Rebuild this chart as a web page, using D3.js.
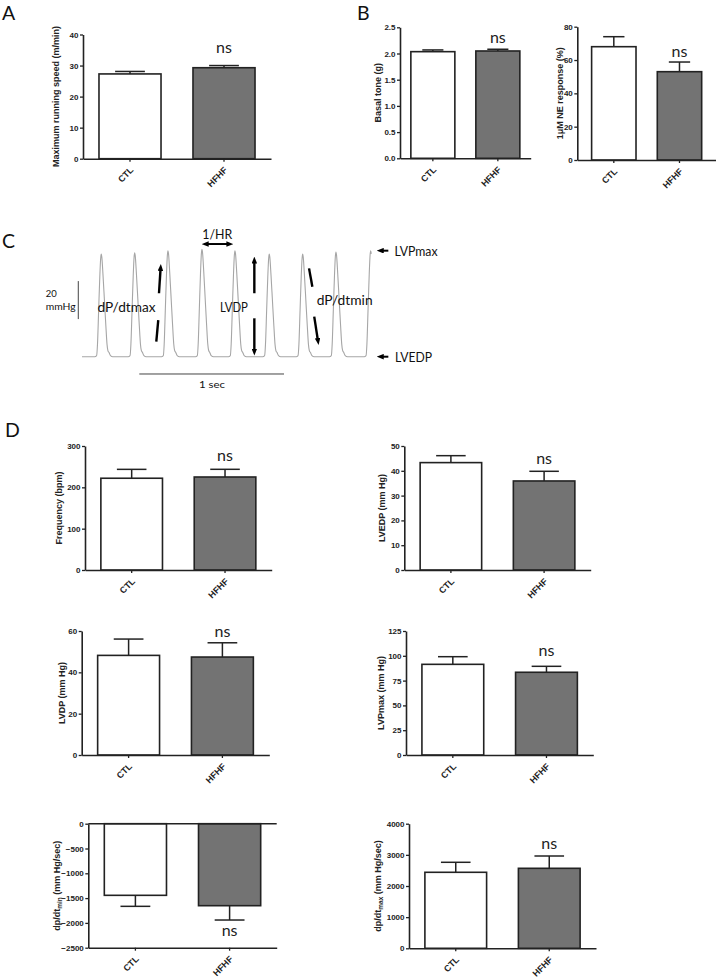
<!DOCTYPE html>
<html><head><meta charset="utf-8">
<script src="https://cdn.jsdelivr.net/npm/d3@7"></script>
<style>body{margin:0;background:#fff} svg{display:block}</style>
</head><body>
<svg id="fig" width="716" height="978"></svg>
<script>
// ---------------- DATA ----------------
const categories = ["CTL", "HFHF"];

// Panel A
const runSpeedMean = [27.3, 29.3];
const runSpeedSem = [0.8, 0.7];
const runSpeedTicks = [0, 10, 20, 30, 40];

// Panel B
const basalToneMean = [2.035, 2.048];
const basalToneSem = [0.033, 0.033];
const basalToneTicks = [0, 0.5, 1.0, 1.5, 2.0, 2.5];
const neResponseMean = [68.0, 53.0];
const neResponseSem = [6.0, 5.8];
const neResponseTicks = [0, 20, 40, 60, 80];

// Panel D
const freqMean = [222, 225];
const freqSem = [21.5, 18.6];
const freqTicks = [0, 100, 200, 300];
const lvedpMean = [43.3, 35.9];
const lvedpSem = [2.8, 3.9];
const lvedpTicks = [0, 10, 20, 30, 40, 50];
const lvdpMean = [48.2, 47.4];
const lvdpSem = [7.9, 6.9];
const lvdpTicks = [0, 20, 40, 60];
const lvpmaxMean = [91.4, 83.4];
const lvpmaxSem = [7.7, 6.0];
const lvpmaxTicks = [0, 25, 50, 75, 100, 125];
const dpdtMinMean = [-1444, -1653];
const dpdtMinSem = [222, 289];
const dpdtMinTicks = [-2500, -2000, -1500, -1000, -500, 0];
const dpdtMaxMean = [2440, 2568];
const dpdtMaxSem = [321, 395];
const dpdtMaxTicks = [0, 1000, 2000, 3000, 4000];

// Panel C: pressure trace (time in s, pressure in mmHg above LVEDP)
const beatTimes = [0.133, 0.364, 0.594, 0.829, 1.057, 1.294, 1.525, 1.755, 1.995];
const beatPeaks = [54.0, 54.7, 55.8, 56.5, 55.8, 54.0, 54.0, 55.1, 55.8];
const beatShapeDt = [-0.045, -0.032, -0.026, -0.018, -0.010, -0.004, 0, 0.004, 0.012, 0.022, 0.032, 0.040, 0.046, 0.054, 0.064, 0.080];
const beatShapeFrac = [0, 0.01, 0.12, 0.45, 0.78, 0.96, 1, 0.97, 0.80, 0.55, 0.30, 0.12, 0.06, 0.04, 0.01, 0];
const traceEnd = 2.0;

// ---------------- DRAW ----------------
const svg = d3.select("#fig");
const sansBold = "'Liberation Sans', Arial, Helvetica, sans-serif";
const calib = "Lato, 'Open Sans', sans-serif";
const ink = "#222";

function barPanel(cfg) {
  const g = svg.append("g");
  const x = d3.scaleBand().domain(categories).range([cfg.x0, cfg.x1])
    .paddingInner(cfg.pi).paddingOuter(cfg.po);
  const ext = d3.extent(cfg.ticks);
  const y = d3.scaleLinear().domain(ext).range([cfg.yBot, cfg.yTop]);
  const rows = categories.map((c, i) => ({c, m: cfg.mean[i], s: cfg.sem[i], fill: i === 0 ? "#ffffff" : "#737373"}));

  const capW = x.bandwidth() * 0.48;
  rows.forEach(d => {
    const sgn = d.m >= 0 ? 1 : -1;
    const cx = x(d.c) + x.bandwidth() / 2;
    const ye = y(d.m + sgn * d.s);
    g.append("line").attr("x1", cx).attr("x2", cx).attr("y1", y(d.m)).attr("y2", ye)
      .attr("stroke", ink).attr("stroke-width", 1.5);
    g.append("line").attr("x1", cx - capW / 2).attr("x2", cx + capW / 2).attr("y1", ye).attr("y2", ye)
      .attr("stroke", ink).attr("stroke-width", 1.5);
  });

  g.selectAll("rect.bar").data(rows).join("rect").attr("class", "bar")
    .attr("x", d => x(d.c)).attr("width", x.bandwidth())
    .attr("y", d => Math.min(y(0), y(d.m)))
    .attr("height", d => Math.abs(y(0) - y(d.m)))
    .attr("fill", d => d.fill).attr("stroke", ink).attr("stroke-width", 1.6);

  const ya = g.append("g").attr("transform", `translate(${cfg.x0},0)`)
    .call(d3.axisLeft(y).tickValues(cfg.ticks).tickFormat(cfg.fmt).tickSize(3).tickSizeOuter(0).tickPadding(1.5));
  ya.select(".domain").attr("stroke", ink).attr("stroke-width", 1.6);
  ya.selectAll(".tick line").attr("stroke", ink).attr("stroke-width", 1.3);
  ya.selectAll(".tick text").attr("fill", ink).attr("font-size", 8).attr("font-weight", "bold").attr("font-family", sansBold);

  const xa = g.append("g").attr("transform", `translate(0,${cfg.yBot})`)
    .call(d3.axisBottom(x).tickSize(3).tickSizeOuter(0));
  xa.select(".domain").attr("stroke", ink).attr("stroke-width", 1.6);
  xa.selectAll(".tick line").attr("stroke", ink).attr("stroke-width", 1.3);
  xa.selectAll(".tick text").attr("fill", ink).attr("font-size", 9).attr("font-weight", "bold")
    .attr("font-family", sansBold).attr("y", 0).attr("dy", 0).attr("text-anchor", "end")
    .attr("transform", "translate(4,12) rotate(-45)");

  if (ext[0] < 0) {
    g.append("line").attr("x1", cfg.x0).attr("x2", cfg.x1).attr("y1", y(0)).attr("y2", y(0))
      .attr("stroke", ink).attr("stroke-width", 1.6);
  }

  const yMid = (cfg.yTop + cfg.yBot) / 2;
  const lab = g.append("text").attr("transform", `translate(${cfg.labelX},${yMid}) rotate(-90)`)
    .attr("text-anchor", "middle").attr("font-size", 9).attr("font-weight", "bold")
    .attr("font-family", sansBold).attr("fill", ink);
  cfg.label.forEach(seg => {
    const ts = lab.append("tspan").text(seg.t);
    if (seg.sub) ts.attr("font-size", 6.5).attr("dy", 2);
    if (seg.after) ts.attr("dy", -2);
  });

  g.append("text").attr("x", x("HFHF") + x.bandwidth() / 2).attr("y", cfg.nsY)
    .attr("text-anchor", "middle").attr("font-family", calib).attr("font-size", 16).attr("fill", ink).text("ns");
}

const f0 = d3.format("d"), f1 = d3.format(".1f");
const panels = [
  {mean: runSpeedMean, sem: runSpeedSem, ticks: runSpeedTicks, fmt: f0, x0: 83, x1: 271, yTop: 34.5, yBot: 158.7, pi: 0.34, po: 0.17, labelX: 59, nsY: 53.3,
    label: [{t: "Maximum running speed (m/min)"}]},
  {mean: basalToneMean, sem: basalToneSem, ticks: basalToneTicks, fmt: f1, x0: 400, x1: 530.7, yTop: 27.3, yBot: 158.3, pi: 0.323, po: 0.167, labelX: 381, nsY: 42.7,
    label: [{t: "Basal tone (g)"}]},
  {mean: neResponseMean, sem: neResponseSem, ticks: neResponseTicks, fmt: f0, x0: 577.3, x1: 716, yTop: 26.7, yBot: 160, pi: 0.324, po: 0.218, labelX: 563, nsY: 56.7,
    label: [{t: "1μM NE response (%)"}]},
  {mean: freqMean, sem: freqSem, ticks: freqTicks, fmt: f0, x0: 85, x1: 271.7, yTop: 446, yBot: 570, pi: 0.34, po: 0.17, labelX: 61.5, nsY: 460.7,
    label: [{t: "Frequency (bpm)"}]},
  {mean: lvedpMean, sem: lvedpSem, ticks: lvedpTicks, fmt: f0, x0: 404.3, x1: 590.7, yTop: 446, yBot: 570, pi: 0.34, po: 0.17, labelX: 385, nsY: 464,
    label: [{t: "LVEDP (mm Hg)"}]},
  {mean: lvdpMean, sem: lvdpSem, ticks: lvdpTicks, fmt: f0, x0: 81.7, x1: 269.3, yTop: 631, yBot: 755, pi: 0.34, po: 0.17, labelX: 64.5, nsY: 636.7,
    label: [{t: "LVDP (mm Hg)"}]},
  {mean: lvpmaxMean, sem: lvpmaxSem, ticks: lvpmaxTicks, fmt: f0, x0: 406, x1: 593.3, yTop: 631, yBot: 755, pi: 0.34, po: 0.17, labelX: 383.5, nsY: 656,
    label: [{t: "LVPmax (mm Hg)"}]},
  {mean: dpdtMinMean, sem: dpdtMinSem, ticks: dpdtMinTicks, fmt: f0, x0: 88.3, x1: 276.7, yTop: 823.7, yBot: 947.7, pi: 0.34, po: 0.17, labelX: 60, nsY: 935.7,
    label: [{t: "dp/dt"}, {t: "min", sub: true}, {t: " (mm Hg/sec)", after: true}]},
  {mean: dpdtMaxMean, sem: dpdtMaxSem, ticks: dpdtMaxTicks, fmt: f0, x0: 409, x1: 596, yTop: 823.7, yBot: 948.3, pi: 0.34, po: 0.17, labelX: 381, nsY: 849.3,
    label: [{t: "dp/dt"}, {t: "max", sub: true}, {t: " (mm Hg/sec)", after: true}]}
];
panels.forEach(barPanel);

// Panel letters
[["A", 2, 19.5], ["B", 357, 19.5], ["C", 2, 248.3], ["D", 5, 436.7]].forEach(([t, x, y]) => {
  svg.append("text").attr("x", x).attr("y", y).attr("font-family", calib).attr("font-size", 19.5).attr("fill", "#111").text(t);
});

// ---------------- Panel C ----------------
const xT = d3.scaleLinear().domain([0, 1]).range([82, 226.7]);
const yP = d3.scaleLinear().domain([0, 20]).range([356.7, 318.7]);
const gc = svg.append("g");

const tracePts = [[0, 0]];
beatTimes.forEach((bt, i) => {
  beatShapeDt.forEach((dt, j) => {
    const t = bt + dt;
    if (t <= traceEnd) tracePts.push([t, beatPeaks[i] * beatShapeFrac[j]]);
  });
});
gc.append("path").datum(tracePts)
  .attr("d", d3.line().x(d => xT(d[0])).y(d => yP(d[1])).curve(d3.curveMonotoneX))
  .attr("fill", "none").attr("stroke", "#a6a6a6").attr("stroke-width", 1.1);

gc.append("line").attr("x1", xT(-0.0256)).attr("x2", xT(-0.0256)).attr("y1", yP(19.8)).attr("y2", yP(39.8))
  .attr("stroke", "#444").attr("stroke-width", 1);
gc.append("line").attr("x1", xT(0.396)).attr("x2", xT(1.396)).attr("y1", yP(-9.1)).attr("y2", yP(-9.1))
  .attr("stroke", "#444").attr("stroke-width", 1);

const defs = svg.append("defs");
defs.append("marker").attr("id", "ah").attr("viewBox", "0 0 10 8").attr("refX", 2).attr("refY", 4)
  .attr("markerWidth", 7).attr("markerHeight", 5.6).attr("markerUnits", "userSpaceOnUse")
  .attr("orient", "auto-start-reverse")
  .append("path").attr("d", "M0,0 L10,4 L0,8 Z").attr("fill", "#000");

function arrow(t1, p1, t2, p2, opts) {
  let x1 = xT(t1), y1 = yP(p1), x2 = xT(t2), y2 = yP(p2);
  const L = Math.hypot(x2 - x1, y2 - y1), ux = (x2 - x1) / L, uy = (y2 - y1) / L;
  const sh = 5.6;
  if (opts.end) { x2 -= ux * sh; y2 -= uy * sh; }
  if (opts.start) { x1 += ux * sh; y1 += uy * sh; }
  const l = gc.append("line").attr("x1", x1).attr("y1", y1).attr("x2", x2).attr("y2", y2)
    .attr("stroke", "#000").attr("stroke-width", opts.w || 2.4);
  if (opts.end) l.attr("marker-end", "url(#ah)");
  if (opts.start) l.attr("marker-start", "url(#ah)");
}
arrow(0.5135, 7.9, 0.527, 19.3, {});
arrow(0.532, 33.4, 0.545, 48.8, {end: true});
arrow(1.191, 33.4, 1.191, 52.7, {end: true});
arrow(1.191, 20.2, 1.191, 0.6, {end: true});
arrow(1.569, 46.5, 1.592, 36.8, {});
arrow(1.605, 21.1, 1.635, 6.2, {end: true});
arrow(0.827, 59.3, 1.046, 59.3, {start: true, end: true, w: 2});
arrow(2.117, 55.8, 2.037, 55.8, {end: true, w: 2});
arrow(2.117, 0, 2.037, 0, {end: true, w: 2});

function ctext(txt, t, p, anchor, size, len) {
  const e = gc.append("text").attr("x", xT(t)).attr("y", yP(p)).attr("text-anchor", anchor)
    .attr("font-family", calib).attr("font-size", size).attr("fill", "#111").text(txt);
  if (len) e.attr("textLength", len).attr("lengthAdjust", "spacingAndGlyphs");
}
ctext("dP/dtmax", 0.3075, 23.5, "middle", 14, 58);
ctext("LVDP", 1.05, 23.5, "middle", 14, 28);
ctext("dP/dtmin", 1.815, 27.2, "middle", 14, 56);
ctext("1/HR", 0.935, 62.2, "middle", 14, 30);
ctext("LVPmax", 2.160, 53.0, "start", 14, 43);
ctext("LVEDP", 2.163, -2.6, "start", 14, 37);
ctext("20", -0.251, 31.2, "start", 10, 11);
ctext("mmHg", -0.251, 24.8, "start", 10, 30);
ctext("1 sec", 0.898, -16.5, "middle", 10, 26);
</script>
</body></html>
